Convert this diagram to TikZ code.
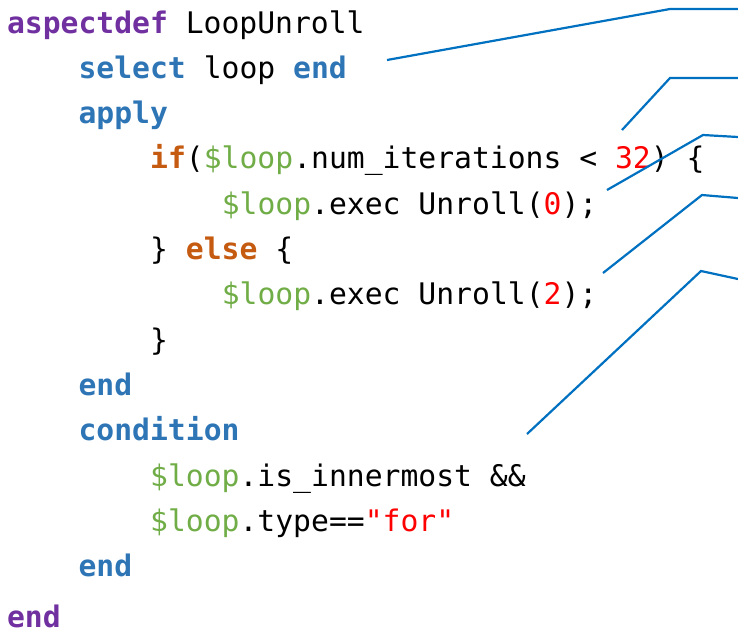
\documentclass[tikz,border=0pt]{standalone}
\usepackage{fontspec}
\setmonofont{DejaVu Sans Mono}
\definecolor{kwpurple}{HTML}{7030A0}
\definecolor{kwblue}{HTML}{2E75B6}
\definecolor{kworange}{HTML}{C55A11}
\definecolor{vargreen}{HTML}{70AD47}
\definecolor{litred}{HTML}{FF0000}
\definecolor{callout}{HTML}{0070C0}
\newcommand{\kwP}[1]{\textcolor{kwpurple}{\bfseries #1}}
\newcommand{\kwB}[1]{\textcolor{kwblue}{\bfseries #1}}
\newcommand{\kwO}[1]{\textcolor{kworange}{\bfseries #1}}
\newcommand{\var}[1]{\textcolor{vargreen}{#1}}
\newcommand{\lit}[1]{\textcolor{litred}{#1}}
\begin{document}
\begin{tikzpicture}[x=1pt,y=-1pt,
  codeline/.style={anchor=base west,inner sep=0pt,outer sep=0pt,
    font=\ttfamily\fontsize{29.7}{36}\selectfont},
  calloutline/.style={draw=callout,line width=2.2pt}]
\useasboundingbox (0,0) rectangle (738,633);
\def\cw{17.9}
\def\xo{7}
% source listing, one node per line
\node[codeline] (l1)  at (\xo,33)            {\kwP{aspectdef} LoopUnroll};
\node[codeline] (l2)  at (\xo+4*\cw,78.3)    {\kwB{select} loop \kwB{end}};
\node[codeline] (l3)  at (\xo+4*\cw,123.6)   {\kwB{apply}};
\node[codeline] (l4)  at (\xo+8*\cw,168.9)   {\kwO{if}(\var{\$loop}.num\_iterations < \lit{32}) \{};
\node[codeline] (l5)  at (\xo+12*\cw,214.2)  {\var{\$loop}.exec Unroll(\lit{0});};
\node[codeline] (l6)  at (\xo+8*\cw,259.5)   {\} \kwO{else} \{};
\node[codeline] (l7)  at (\xo+12*\cw,304.8)  {\var{\$loop}.exec Unroll(\lit{2});};
\node[codeline] (l8)  at (\xo+8*\cw,350.1)   {\}};
\node[codeline] (l9)  at (\xo+4*\cw,395.4)   {\kwB{end}};
\node[codeline] (l10) at (\xo+4*\cw,440.7)   {\kwB{condition}};
\node[codeline] (l11) at (\xo+8*\cw,486)     {\var{\$loop}.is\_innermost \&\&};
\node[codeline] (l12) at (\xo+8*\cw,531.3)   {\var{\$loop}.type==\lit{"for"}};
\node[codeline] (l13) at (\xo+4*\cw,576)     {\kwB{end}};
\node[codeline] (l14) at (\xo,627)           {\kwP{end}};
% callout anchors
\coordinate (a1) at (387,60);  \coordinate (b1) at (670,9);   \coordinate (c1) at (738,9);
\coordinate (a2) at (622,130); \coordinate (b2) at (670,78);  \coordinate (c2) at (738,78);
\coordinate (a3) at (607,190); \coordinate (b3) at (703,135); \coordinate (c3) at (738,137);
\coordinate (a4) at (603,273); \coordinate (b4) at (702,195); \coordinate (c4) at (738,198);
\coordinate (a5) at (527,434); \coordinate (b5) at (701,271); \coordinate (c5) at (738,279);
\foreach \i in {1,...,5}
  \draw[calloutline] (a\i) -- (b\i) -- (c\i);
\end{tikzpicture}
\end{document}
